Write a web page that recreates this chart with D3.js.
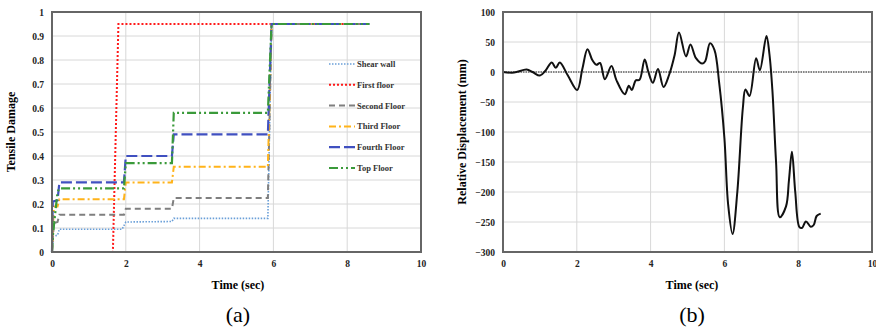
<!DOCTYPE html>
<meta charset="utf-8">
<head>
<style>
  body { margin: 0; background: #fff; }
  svg text { font-family: "Liberation Serif", "DejaVu Serif", serif; }
  .tick text { font-family: "Liberation Serif", serif; font-weight: bold; font-size: 9.5px; fill: #222; }
  .grid line { stroke: #d8d8d8; stroke-width: 1; }
</style>
</head>
<body>
<svg id="chart" width="876" height="334"></svg>
<script src="https://d3js.org/d3.v7.min.js"></script>
<script>
// ---- data (a): tensile damage, [time, damage] pairs
var shearWall  = [[0,0],[0.03,0.065],[0.15,0.07],[0.2,0.095],[1.9,0.095],[2.0,0.125],[3.25,0.127],[3.3,0.14],[5.85,0.14],[5.95,0.95],[8.6,0.95]];
var firstFloor = [[0,0],[1.65,0],[1.8,0.95],[8.6,0.95]];
var secondFloor= [[0,0],[0.05,0.12],[0.15,0.125],[0.2,0.155],[1.95,0.155],[2.0,0.18],[3.25,0.18],[3.3,0.225],[5.85,0.225],[5.95,0.95],[8.6,0.95]];
var thirdFloor = [[0,0],[0.05,0.19],[0.15,0.19],[0.2,0.22],[1.95,0.22],[2.0,0.29],[3.25,0.29],[3.3,0.355],[5.85,0.355],[5.95,0.95],[8.6,0.95]];
var fourthFloor= [[0,0],[0.02,0.21],[0.15,0.215],[0.2,0.29],[1.95,0.29],[2.0,0.4],[3.25,0.4],[3.3,0.49],[5.85,0.49],[5.95,0.95],[8.6,0.95]];
var topFloor   = [[0,0],[0.03,0.08],[0.15,0.25],[0.2,0.265],[1.95,0.265],[2.0,0.37],[3.25,0.37],[3.3,0.58],[5.85,0.58],[5.95,0.95],[8.6,0.95]];
var seriesNames = ["Shear wall","First floor","Second Floor","Third Floor","Fourth Floor","Top Floor"];

// ---- data (b): relative displacement
var dispTime  = [0,0.3,0.64,0.8,1.0,1.15,1.32,1.43,1.54,1.75,2.01,2.15,2.29,2.42,2.53,2.63,2.76,2.94,3.07,3.30,3.41,3.49,3.60,3.70,3.84,3.94,4.06,4.20,4.35,4.50,4.65,4.77,4.96,5.08,5.23,5.40,5.48,5.61,5.73,5.86,6.0,6.1,6.22,6.35,6.5,6.57,6.68,6.86,6.96,7.14,7.22,7.30,7.40,7.50,7.67,7.75,7.83,7.92,8.03,8.10,8.21,8.34,8.42,8.5,8.61];
var dispValue = [0,-1,4,0,-6,2,16,7,16,-5,-30,5,38,20,12,15,-12,10,-13,-37,-23,-30,-14,-13,21,0,-18,5,-25,-5,28,66,26,46,23,14,18,48,37,-19,-110,-220,-270,-200,-60,-29,-40,23,3,60,30,-30,-150,-242,-224,-180,-133,-200,-258,-260,-249,-258,-255,-240,-236];

var xTicks = [0,2,4,6,8,10];
var damageTicks = [0,0.1,0.2,0.3,0.4,0.5,0.6,0.7,0.8,0.9,1];
var dispTicks = [100,50,0,-50,-100,-150,-200,-250,-300];

var svg = d3.select("#chart");
svg.append("rect").attr("width",876).attr("height",334).attr("fill","#fff");

function panel(left, right, top, bottom, yDomain, yTicks, yFmt) {
  var x = d3.scaleLinear().domain([0,10]).range([left,right]);
  var y = d3.scaleLinear().domain(yDomain).range([bottom,top]);
  var g = svg.append("g");
  g.append("g").attr("class","grid")
    .selectAll("line").data(yTicks).join("line")
    .attr("x1",left).attr("x2",right).attr("y1",d=>y(d)).attr("y2",d=>y(d));
  g.append("g").attr("class","grid")
    .selectAll("line").data(xTicks).join("line")
    .attr("y1",top).attr("y2",bottom).attr("x1",d=>x(d)).attr("x2",d=>x(d));
  g.append("g").attr("transform","translate(0,"+(bottom+2)+")")
    .call(d3.axisBottom(x).tickValues(xTicks).tickSize(0).tickPadding(6))
    .call(a=>a.select(".domain").remove());
  g.append("g").attr("transform","translate("+(left-3)+",0)")
    .call(d3.axisLeft(y).tickValues(yTicks).tickSize(0).tickPadding(5).tickFormat(yFmt))
    .call(a=>a.select(".domain").remove());
  return {x:x, y:y, g:g};
}

// ---- panel (a)
var A = panel(52, 421, 12, 252, [0,1], damageTicks, d3.format("~g"));
var styles = [
  {c:"#6a9fd8", w:1.6, d:"1.5,1.5"},
  {c:"#ff1a1a", w:2,   d:"2,2"},
  {c:"#7f7f7f", w:2,   d:"6,4"},
  {c:"#ffb31a", w:2,   d:"7,3,2,3"},
  {c:"#4050c0", w:2.2, d:"11,4"},
  {c:"#3a9a3a", w:2.2, d:"9,3,2,3,2,3"}
];
var stepData = [shearWall, firstFloor, secondFloor, thirdFloor, fourthFloor, topFloor];
var lineA = d3.line().x(d=>A.x(d[0])).y(d=>A.y(d[1]));
stepData.forEach(function(s,i){
  A.g.append("path").datum(s).attr("d",lineA)
    .attr("fill","none").attr("stroke",styles[i].c)
    .attr("stroke-width",styles[i].w).attr("stroke-dasharray",styles[i].d);
});
A.g.append("rect").attr("x",52).attr("y",12).attr("width",369).attr("height",240)
  .attr("fill","none").attr("stroke","#666").attr("stroke-width",2);

var leg = A.g.append("g");
seriesNames.forEach(function(n,i){
  var yy = 64 + i*20.8;
  leg.append("line").attr("x1",329).attr("x2",355).attr("y1",yy).attr("y2",yy)
    .attr("stroke",styles[i].c).attr("stroke-width",styles[i].w).attr("stroke-dasharray",styles[i].d);
  leg.append("text").attr("x",357).attr("y",yy+3).text(n)
    .attr("font-size","8.5px").attr("font-weight","bold").attr("fill","#333");
});

svg.append("text").attr("transform","translate(15,132) rotate(-90)").attr("text-anchor","middle")
  .attr("font-size","12px").attr("font-weight","bold").text("Tensile Damage");
svg.append("text").attr("x",238).attr("y",289).attr("text-anchor","middle")
  .attr("font-size","12px").attr("font-weight","bold").text("Time (sec)");
svg.append("text").attr("x",238).attr("y",322).attr("text-anchor","middle")
  .attr("font-size","22px").text("(a)");

// ---- panel (b)
var B = panel(503, 872, 12, 252, [-300,100], dispTicks, d3.format("d"));
B.g.append("line").attr("x1",503).attr("x2",872).attr("y1",B.y(0)).attr("y2",B.y(0))
  .attr("stroke","#222").attr("stroke-width",1.2).attr("stroke-dasharray","1.5,1");
var lineB = d3.line().x((d,i)=>B.x(dispTime[i])).y(d=>B.y(d)).curve(d3.curveCatmullRom.alpha(0.5));
B.g.append("path").datum(dispValue).attr("d",lineB)
  .attr("fill","none").attr("stroke","#111").attr("stroke-width",2);
B.g.append("rect").attr("x",503).attr("y",12).attr("width",369).attr("height",240)
  .attr("fill","none").attr("stroke","#666").attr("stroke-width",2);

svg.append("text").attr("transform","translate(466,132) rotate(-90)").attr("text-anchor","middle")
  .attr("font-size","12px").attr("font-weight","bold").text("Relative Displacement (mm)");
svg.append("text").attr("x",692).attr("y",289).attr("text-anchor","middle")
  .attr("font-size","12px").attr("font-weight","bold").text("Time (sec)");
svg.append("text").attr("x",692).attr("y",322).attr("text-anchor","middle")
  .attr("font-size","22px").text("(b)");
</script>
</body>
